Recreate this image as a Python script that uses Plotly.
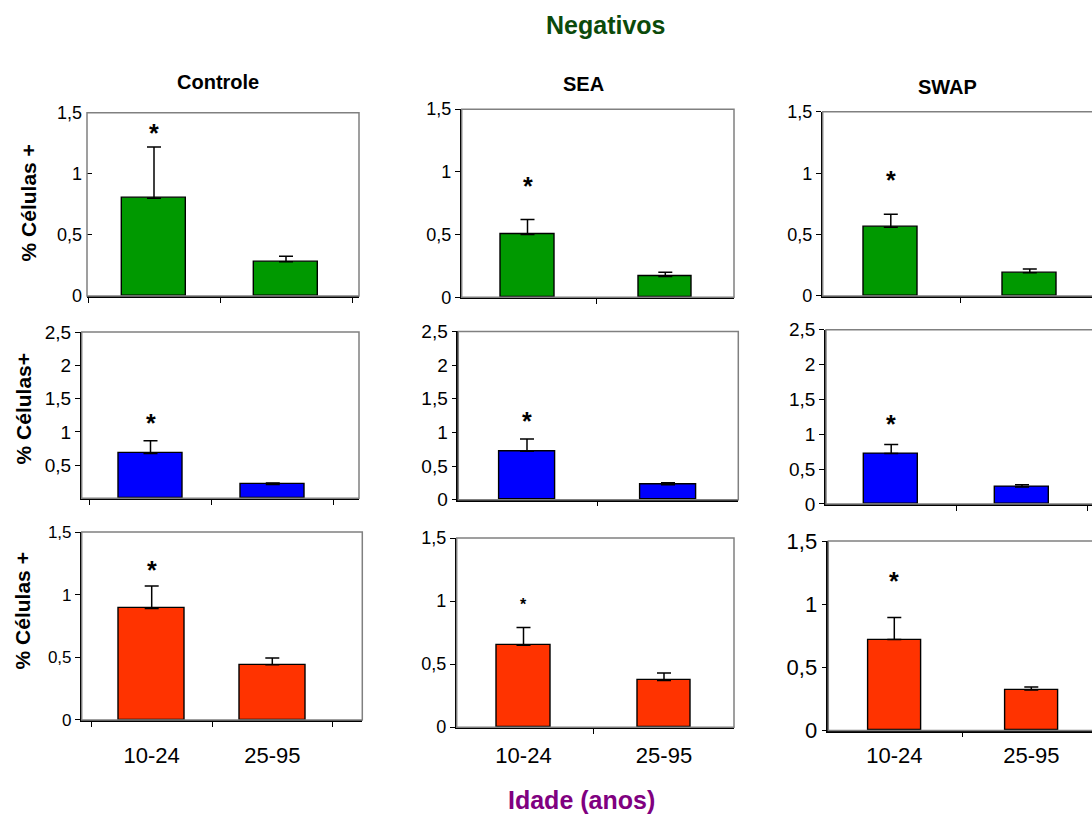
import plotly.graph_objects as go

W, H = 1092, 818

age_groups = ["10-24", "25-95"]
antigens = ["Controle", "SEA", "SWAP"]

# % positive cells (mean and upper error) for each antigen, one list per population
green_means = [[0.80, 0.28], [0.50, 0.165], [0.56, 0.19]]
green_err = [[0.42, 0.045], [0.12, 0.035], [0.105, 0.03]]
blue_means = [[0.675, 0.21], [0.72, 0.22], [0.725, 0.245]]
blue_err = [[0.19, 0.02], [0.18, 0.03], [0.13, 0.03]]
red_means = [[0.89, 0.44], [0.65, 0.37], [0.72, 0.32]]
red_err = [[0.18, 0.055], [0.14, 0.06], [0.175, 0.025]]

# height of the significance asterisk above the 10-24 bar
star_levels = [[1.36, 0.91, 0.97], [1.18, 1.22, 1.19], [1.22, 0.99, 1.21]]

rows = [
    dict(color="#009900", means=green_means, err=green_err, ymax=1.5,
         ytitle="% Células +", ytitle_pos=(28, 203)),
    dict(color="#0000FF", means=blue_means, err=blue_err, ymax=2.5,
         ytitle="% Células+", ytitle_pos=(23, 410)),
    dict(color="#FF3300", means=red_means, err=red_err, ymax=1.5,
         ytitle="% Células +", ytitle_pos=(22, 613)),
]

# panel frames in pixels: left, right (None = runs past the page edge),
# top (y max), zero line, centres of the two category slots, bar width
frames = [
    [(87, 359, 112, 296, 154, 286, 64),
     (461.7, 734, 108.3, 297.3, 527.5, 665.3, 53.6),
     (822.7, None, 111, 296, 890.8, 1029.8, 54.3)],
    [(81.7, 359, 332.3, 499.4, 150.5, 272.8, 64),
     (458.3, 738.3, 331.7, 500.7, 527, 668, 56),
     (826, None, 330, 505, 891.2, 1022, 53.7)],
    [(81.7, 362.3, 533.3, 722, 151.7, 272.3, 66),
     (456.7, 734, 539.3, 729.3, 523.5, 664, 53.6),
     (828.3, None, 542.3, 732.7, 894.3, 1031.3, 53)],
]
ytick_sizes = [[18, 18, 18], [19, 19, 19], [17, 18, 22]]
xtick_sizes = [22, 22, 22]
xlabel_y = 757
star_sizes = [[25, 25, 25], [25, 25, 25], [25, 16, 25]]

FONT = "Liberation Sans, Arial, sans-serif"


def fig_y(y):
    """Vertical pixel position (from the top) -> position used in the layout."""
    return (y - 10.64) / 0.9742


def paper_y(y):
    return 1 - fig_y(y) / H


fig = go.Figure()
layout = dict(
    width=W, height=H, autosize=False,
    margin=dict(l=0, r=0, t=0, b=0),
    paper_bgcolor="white", plot_bgcolor="white",
    showlegend=False, separators=", ",
    font=dict(family=FONT, color="black"),
    bargap=0,
)
shapes = []
annotations = []

k = 0
for r, row in enumerate(rows):
    for c in range(3):
        k += 1
        suffix = "" if k == 1 else str(k)
        L, R, top, zero, c0, c1, bw = frames[r][c]
        off_edge = R is None
        if off_edge:
            R = W
        unit = c1 - c0
        xr = [(L - c0) / unit, (R - c0) / unit]
        xa = "x" + suffix
        ya = "y" + suffix
        fig.add_trace(go.Bar(
            x=age_groups, y=row["means"][c],
            width=bw / unit,
            marker=dict(color=row["color"], line=dict(color="black", width=1.4)),
            error_y=dict(type="data", array=row["err"][c], arrayminus=[0, 0],
                         symmetric=False, color="black", thickness=1.5, width=7),
            xaxis=xa, yaxis=ya, hoverinfo="skip",
        ))
        ymax = row["ymax"]
        tv = [i * 0.5 for i in range(int(round(ymax / 0.5)) + 1)]
        if r == 1 and c == 0:
            tv = tv[1:]
        bottom = r == 2
        # distance from the axis line down to the centre of the age labels
        standoff = max(0, (fig_y(xlabel_y) - fig_y(zero)) - 5 - 0.62 * xtick_sizes[c] - 2)
        layout["xaxis" + suffix] = dict(
            domain=[L / W, R / W], anchor=ya, type="category",
            categoryorder="array", categoryarray=age_groups,
            range=xr, showgrid=False, zeroline=False,
            showline=True, linecolor="black", linewidth=1.5,
            ticks="outside", tickson="boundaries", ticklen=5,
            tickcolor="black", tickwidth=1,
            showticklabels=bottom,
            ticklabelstandoff=int(round(standoff)) if bottom else 0,
            tickfont=dict(size=xtick_sizes[c], family=FONT, color="black"),
            fixedrange=True,
        )
        layout["yaxis" + suffix] = dict(
            domain=[paper_y(zero), paper_y(top)], anchor=xa,
            range=[0, ymax], tickvals=tv, showgrid=False, zeroline=False,
            showline=not (r == 0 and c == 0), linecolor="black", linewidth=1.5,
            ticks="inside" if (r == 0 and c == 0) else "outside",
            ticklen=5, tickcolor="black", tickwidth=1,
            ticklabelstandoff=4 if (r == 0 and c == 0) else 0,
            tickfont=dict(size=ytick_sizes[r][c], family=FONT, color="black"),
            fixedrange=True,
        )
        # grey plot-area frame
        shapes.append(dict(
            type="rect", xref="%s domain" % xa, yref="%s domain" % ya,
            x0=0, x1=1.05 if off_edge else 1, y0=0, y1=1,
            line=dict(color="#808080", width=1.5), layer="above",
        ))
        annotations.append(dict(
            x=age_groups[0], y=star_levels[r][c], xref=xa, yref=ya,
            text="<b>*</b>", showarrow=False, yanchor="middle",
            yshift=-0.13 * star_sizes[r][c],
            font=dict(size=star_sizes[r][c], family=FONT, color="black"),
        ))
    px, py = row["ytitle_pos"]
    annotations.append(dict(
        x=px / W, y=paper_y(py), xref="paper", yref="paper",
        text="<b>%s</b>" % row["ytitle"], textangle=-90, showarrow=False,
        xanchor="center", yanchor="middle",
        font=dict(size=21, family=FONT, color="black"),
    ))

# column headings
for name, (px, py) in zip(antigens, [(218, 81), (583, 83), (947, 86)]):
    annotations.append(dict(
        x=px / W, y=paper_y(py), xref="paper", yref="paper",
        text="<b>%s</b>" % name, showarrow=False,
        xanchor="center", yanchor="middle",
        font=dict(size=20, family=FONT, color="black"),
    ))

annotations.append(dict(
    x=605 / W, y=paper_y(24), xref="paper", yref="paper",
    text="<b>Negativos</b>", showarrow=False, xanchor="center", yanchor="middle",
    font=dict(size=25, family=FONT, color="#0B4A0B"),
))
annotations.append(dict(
    x=581 / W, y=paper_y(803), xref="paper", yref="paper",
    text="<b>Idade (anos)</b>", showarrow=False, xanchor="center", yanchor="middle",
    font=dict(size=25, family=FONT, color="#800080"),
))

layout["shapes"] = shapes
layout["annotations"] = annotations
fig.update_layout(**layout)
fig.write_html("out.html")
